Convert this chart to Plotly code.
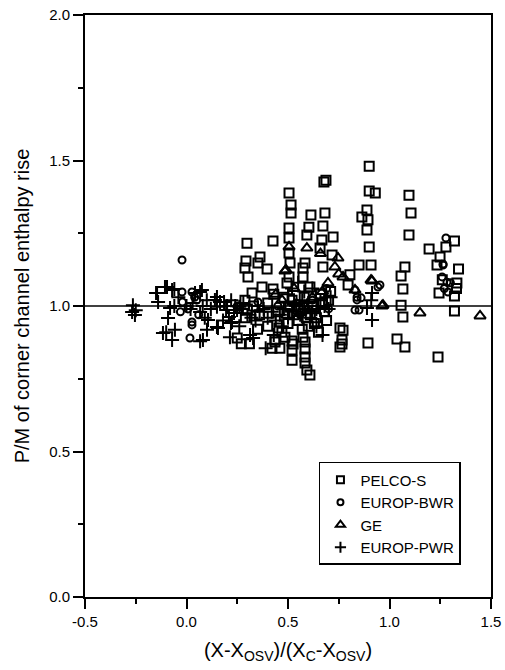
import plotly.graph_objects as go

# ---- data ----
pelco_s = [
    (0.90, 1.48), (0.677, 1.426), (0.687, 1.432), (0.505, 1.388), (0.515, 1.347), (0.515, 1.32),
    (0.90, 1.395), (0.93, 1.388), (1.096, 1.381), (1.106, 1.32), (1.096, 1.244), (0.613, 1.313),
    (0.682, 1.32), (0.672, 1.275), (0.603, 1.271), (0.593, 1.244), (0.505, 1.268), (0.505, 1.234),
    (0.722, 1.237), (0.298, 1.216), (0.426, 1.223), (0.889, 1.33), (0.864, 1.306), (0.894, 1.296),
    (0.889, 1.261), (0.90, 1.203), (0.85, 1.141), (0.909, 1.141), (1.195, 1.196), (1.278, 1.203),
    (1.32, 1.223), (1.249, 1.168), (1.234, 1.141), (1.34, 1.127), (1.076, 1.134), (1.057, 1.103),
    (1.066, 1.058), (1.057, 1.003), (1.332, 1.079), (1.244, 1.045), (1.32, 1.034), (0.658, 1.199),
    (0.667, 1.227), (0.717, 1.175), (0.672, 1.134), (0.574, 1.131), (0.584, 1.148), (0.574, 1.10),
    (0.608, 1.065), (0.51, 1.148), (0.505, 1.182), (0.505, 1.10), (0.495, 1.079), (0.397, 1.127),
    (0.362, 1.168), (0.352, 1.148), (0.293, 1.155), (0.288, 1.131), (0.372, 1.065), (0.426, 1.058),
    (0.323, 1.045), (0.303, 1.10), (0.805, 1.107), (0.796, 1.072), (0.288, 1.02),
    (1.066, 0.962), (0.894, 0.873), (1.037, 0.887), (1.076, 0.859), (1.239, 0.825), (1.32, 0.983),
    (1.26, 1.09), (1.33, 1.06),
    (0.608, 0.763), (0.593, 0.78), (0.52, 0.814), (0.584, 0.804), (0.584, 0.825), (0.52, 0.849),
    (0.584, 0.852), (0.525, 0.869), (0.584, 0.876), (0.52, 0.88), (0.574, 0.893), (0.485, 0.893),
    (0.436, 0.883), (0.421, 0.855), (0.46, 0.855), (0.436, 0.876), (0.455, 0.924), (0.756, 0.924),
    (0.771, 0.917), (0.766, 0.883), (0.766, 0.869), (0.756, 0.859),
    (0.30, 0.99), (0.33, 1.0), (0.36, 0.97), (0.40, 1.01), (0.45, 0.98), (0.48, 1.03), (0.52, 1.02),
    (0.55, 0.99), (0.58, 1.03), (0.62, 1.0), (0.64, 0.96), (0.66, 1.04), (0.68, 0.98), (0.70, 1.02),
    (0.55, 0.95), (0.60, 0.93), (0.65, 0.91), (0.50, 0.94), (0.40, 0.93), (0.35, 0.92), (0.29, 0.96),
    (0.25, 0.89), (0.27, 0.87), (0.31, 0.87), (0.69, 0.95), (0.71, 1.05), (0.47, 0.91), (0.43, 1.04),
    (0.57, 0.92), (0.63, 0.94), (0.53, 0.97), (0.61, 0.97), (0.67, 1.01), (0.51, 1.00), (0.59, 0.96),
]

europ_bwr = [
    (-0.022, 1.158), (-0.022, 1.048), (0.027, 1.048), (0.027, 0.945), (0.027, 0.935), (0.017, 0.89),
    (0.007, 0.99), (-0.02, 1.014), (0.05, 1.02), (0.06, 0.97), (0.04, 1.03), (-0.03, 0.98),
    (0.352, 1.014), (0.45, 1.0), (0.54, 1.01), (0.60, 0.99), (0.83, 1.055), (0.84, 1.03),
    (0.953, 1.072), (0.943, 1.065), (0.84, 1.021), (0.86, 1.028), (0.83, 0.986), (0.85, 0.986),
    (1.259, 1.10), (1.283, 1.082), (1.288, 1.048), (1.264, 1.141), (1.278, 1.234), (1.264, 1.144),
    (1.27, 1.06), (1.30, 1.08), (0.69, 1.06), (0.70, 0.99), (0.25, 1.0), (0.62, 1.02), (0.56, 0.97),
]

ge = [
    (0.505, 1.203), (0.593, 1.199), (0.49, 1.124), (0.746, 1.165), (0.731, 1.134), (0.771, 1.10),
    (0.83, 1.055), (0.909, 1.089), (0.697, 1.079), (0.968, 1.003), (0.914, 1.086), (0.963, 1.0),
    (1.15, 0.976), (1.446, 0.966), (0.485, 1.12), (0.593, 0.986), (0.75, 1.11), (0.67, 1.05),
    (0.53, 1.06), (0.62, 1.03), (0.58, 1.00), (0.47, 1.02), (0.44, 1.04), (0.66, 1.18),
]

europ_pwr = [
    (-0.264, 1.003), (-0.254, 0.969), (-0.268, 0.979), (-0.25, 0.985), (-0.15, 1.045), (-0.14, 1.014),
    (-0.106, 1.065), (-0.071, 1.055), (-0.081, 0.993), (-0.091, 0.959), (-0.116, 0.907), (-0.071, 0.883),
    (-0.057, 0.918), (-0.10, 0.91), (-0.06, 1.0), (-0.04, 1.03), (-0.145, 1.045), (-0.096, 1.065),
    (-0.06, 1.058), (0.076, 1.055), (0.042, 1.045), (0.067, 1.048), (0.081, 0.883), (0.067, 0.879),
    (0.101, 0.918), (0.106, 0.952), (0.067, 0.979), (0.15, 1.031), (0.14, 1.021), (0.165, 1.014),
    (0.15, 0.997), (0.15, 0.928), (0.155, 0.924), (0.185, 1.014), (0.195, 0.986), (0.209, 0.962),
    (0.219, 0.942), (0.214, 0.893), (0.224, 0.945), (0.234, 0.976), (0.249, 0.986), (0.26, 0.997),
    (0.328, 0.89), (0.313, 0.90), (0.39, 0.855), (0.43, 0.90), (0.0, 1.0), (0.02, 0.99), (0.03, 1.01),
    (0.08, 1.0), (0.10, 1.02), (0.12, 0.99), (0.09, 0.96), (0.2, 1.0), (0.22, 1.02), (0.24, 1.0),
    (0.27, 0.99), (0.28, 1.01), (0.3, 0.97), (0.32, 0.96), (0.34, 0.95), (0.36, 0.98), (0.38, 0.99),
    (0.40, 0.96), (0.42, 0.98), (0.44, 0.95), (0.46, 0.97), (0.48, 0.99), (0.50, 0.96), (0.52, 0.98),
    (0.54, 1.0), (0.56, 0.97), (0.58, 0.99), (0.60, 1.01), (0.62, 0.98), (0.64, 0.99), (0.66, 1.02),
    (0.68, 1.0), (0.70, 0.99), (0.52, 1.06), (0.55, 1.08), (0.50, 1.04), (0.58, 1.05), (0.62, 1.06),
    (0.64, 0.93), (0.67, 0.90), (0.889, 0.993), (0.914, 0.952), (0.914, 1.045), (0.91, 1.02),
    (0.71, 1.03), (0.18, 0.95), (0.26, 0.93), (0.35, 1.0), (0.47, 0.93), (0.53, 1.01), (0.57, 1.02),
    (0.61, 0.96), (0.65, 1.0), (0.69, 1.03),
]

x_tick_vals = [-0.5, 0.0, 0.5, 1.0, 1.5]
x_tick_text = ["-0.5", "0.0", "0.5", "1.0", "1.5"]
y_tick_vals = [0.0, 0.5, 1.0, 1.5, 2.0]
y_tick_text = ["0.0", "0.5", "1.0", "1.5", "2.0"]

series = [
    ("PELCO-S", pelco_s, "square-open", 9, 7),
    ("EUROP-BWR", europ_bwr, "circle-open", 7, 6),
    ("GE", ge, "triangle-up-open", 10, 8),
    ("EUROP-PWR", europ_pwr, "cross-thin", 10, 8),
]

fig = go.Figure()
for name, pts, sym, size, lsize in series:
    fig.add_trace(go.Scatter(
        x=[p[0] for p in pts], y=[p[1] for p in pts], mode="markers", name=name,
        showlegend=False, legendgroup=name,
        marker=dict(symbol=sym, size=size, color="black",
                    line=dict(color="black", width=2)),
    ))
for name, pts, sym, size, lsize in series:
    # legend-only entry with the smaller legend symbol of the reference
    fig.add_trace(go.Scatter(
        x=[None], y=[None], mode="markers", name=name, legendgroup=name,
        marker=dict(symbol=sym, size=lsize, color="black",
                    line=dict(color="black", width=2)),
    ))

fig.add_hline(y=1.0, line=dict(color="black", width=1.5))

axis_common = dict(
    showline=True, linecolor="black", linewidth=1.7, mirror=True,
    showgrid=False, zeroline=False, ticks="outside", ticklen=10, tickwidth=1.5,
    tickcolor="black",
    minor=dict(ticks="outside", ticklen=5, tickwidth=1.5, tickcolor="black", dtick=0.25),
    tickfont=dict(size=15, color="black"),
)

fig.update_xaxes(range=[-0.5, 1.5], tickmode="array", tickvals=x_tick_vals, ticktext=x_tick_text,
                 **axis_common,
                 title=dict(text="(X-X<sub>OSV</sub>)/(X<sub>C</sub>-X<sub>OSV</sub>)",
                            font=dict(size=20, color="black"), standoff=14))
fig.update_yaxes(range=[0, 2.0], tickmode="array", tickvals=y_tick_vals, ticktext=y_tick_text,
                 **axis_common,
                 title=dict(text="P/M of corner channel enthalpy rise",
                            font=dict(size=20, color="black"), standoff=14))
fig.update_xaxes(minor=dict(tick0=-0.5))
fig.update_yaxes(minor=dict(tick0=0))

fig.update_layout(
    width=505, height=670,
    margin=dict(l=85, r=14, t=15, b=73, autoexpand=False),
    paper_bgcolor="white", plot_bgcolor="white",
    font=dict(family="Liberation Sans, Arial, sans-serif", color="black"),
    legend=dict(x=0.926, y=0.055, xanchor="right", yanchor="bottom",
                bgcolor="white", bordercolor="black", borderwidth=1.5,
                font=dict(size=15, color="black"), itemsizing="trace",
                tracegroupgap=0),
    showlegend=True,
)

fig.write_html("out.html")
